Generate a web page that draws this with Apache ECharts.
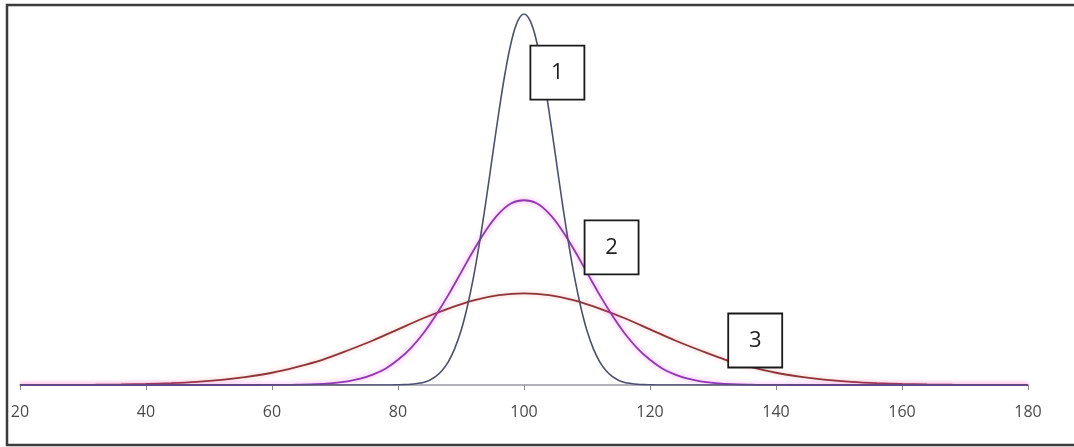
<!DOCTYPE html>
<html>
<head>
<meta charset="utf-8">
<script src="https://cdn.jsdelivr.net/npm/echarts@6/dist/echarts.min.js"></script>
<style>
html,body{margin:0;padding:0;background:#fff;}
#chart{width:1074px;height:447px;}
</style>
</head>
<body>
<div id="chart"></div>
<script>
// Curve 1 (narrow, tallest)
var x1 = [20,78,79,80,81,82,83,84,85,86,87,88,89,90,91,92,93,94,95,96,97,98,99,100,
          101,102,103,104,105,106,107,108,109,110,111,112,113,114,115,116,117,118,119,120,121,122,180];
var y1 = [0,0,0.02,0.05,0.1,0.2,0.4,0.7,1.3,2.3,3.9,6.3,9.8,14.6,21.1,29.2,39.0,50.0,61.8,73.5,84.1,92.6,98.1,100,
          98.1,92.6,84.1,73.5,61.8,50.0,39.0,29.2,21.1,14.6,9.8,6.3,3.9,2.3,1.3,0.7,0.4,0.2,0.1,0.05,0.02,0,0];
// Curve 2 (medium)
var x2 = [20,58,60,62,64,66,68,70,72,74,76,78,80,82,84,86,88,90,92,94,96,98,100,
          102,104,106,108,110,112,114,116,118,120,122,124,126,128,130,132,134,136,138,140,142,180];
var y2 = [0,0,0.02,0.04,0.08,0.15,0.3,0.56,1.0,1.7,2.8,4.4,6.8,9.9,13.9,18.8,24.3,30.3,36.3,41.8,46.2,49.0,49.8,
          49.0,46.2,41.8,36.3,30.3,24.3,18.8,13.9,9.9,6.8,4.4,2.8,1.7,1.0,0.56,0.3,0.15,0.08,0.04,0.02,0,0];
// Curve 3 (wide, lowest)
var x3 = [20,24,28,32,36,40,44,48,52,56,60,64,68,72,76,80,84,88,92,96,100,
          104,108,112,116,120,124,128,132,136,140,144,148,152,156,160,164,168,172,176,180];
var y3 = [0.01,0.02,0.04,0.07,0.14,0.27,0.49,0.84,1.4,2.2,3.3,4.9,6.8,9.3,12.0,15.0,18.0,20.6,22.8,24.2,24.7,
          24.2,22.8,20.6,18.0,15.0,12.0,9.3,6.8,4.9,3.3,2.2,1.4,0.84,0.49,0.27,0.14,0.07,0.04,0.02,0.01];
// Annotation boxes
var boxLabels = ['1','2','3'];
var boxX = [105.3, 113.9, 136.7];
var boxY = [84.2, 37.1, 12.0];
var xTicks = [20,40,60,80,100,120,140,160,180];

function pairs(xs, ys){ return xs.map(function(x,i){ return [x, ys[i]]; }); }
function box(i){
  return {
    symbol: 'rect', symbolSize: [54,54],
    silent: true,
    data: [{coord: [boxX[i], boxY[i]], value: boxLabels[i]}],
    itemStyle: {color: '#ffffff', borderColor: '#1a1a1a', borderWidth: 1.8},
    label: {show: true, position: 'inside', formatter: '{c}', color: '#1e1e1e',
            fontSize: 22, fontFamily: 'Open Sans, Liberation Sans, Arial, sans-serif'}
  };
}

var chart = echarts.init(document.getElementById('chart'), null, {renderer: 'canvas'});
chart.setOption({
  animation: false,
  backgroundColor: '#ffffff',
  graphic: [{
    type: 'rect', z: 100, silent: true,
    shape: {x: 7, y: 5, width: 1090, height: 440},
    style: {fill: 'none', stroke: '#3c3c3c', lineWidth: 2.5}
  }],
  grid: {left: 20, right: 46, top: 14, bottom: 62},
  xAxis: {
    type: 'value', min: 20, max: 180, interval: 20,
    axisLine: {show: true, lineStyle: {color: '#9a96a8', width: 1.5}},
    axisTick: {show: true, length: 5, lineStyle: {color: '#8a8a8a'}},
    splitLine: {show: false},
    axisLabel: {color: '#4a4a4a', fontSize: 16, margin: 19,
                fontFamily: 'Open Sans, Liberation Sans, Arial, sans-serif',
                formatter: function(v){ return xTicks.indexOf(v) >= 0 ? String(v) : ''; }}
  },
  yAxis: {
    type: 'value', min: 0, max: 100, show: false,
    splitLine: {show: false}
  },
  series: [
    {
      name: '3', type: 'line', data: pairs(x3, y3), smooth: 0.3, symbol: 'none', z: 2,
      lineStyle: {color: '#8a3538', width: 1.8, shadowColor: 'rgba(255,90,90,0.45)', shadowBlur: 4}
    },
    {
      name: '2', type: 'line', data: pairs(x2, y2), smooth: 0.4, symbol: 'none', z: 3,
      lineStyle: {color: '#9038b0', width: 1.8, shadowColor: 'rgba(255,60,255,0.6)', shadowBlur: 5}
    },
    {
      name: '1', type: 'line', data: pairs(x1, y1), smooth: 0.4, symbol: 'none', z: 4,
      lineStyle: {color: '#4d5070', width: 1.6},
      markPoint: box(0)
    },
    {
      name: 'b2', type: 'line', data: [], markPoint: box(1), z: 5
    },
    {
      name: 'b3', type: 'line', data: [], markPoint: box(2), z: 5
    }
  ]
});
</script>
</body>
</html>
